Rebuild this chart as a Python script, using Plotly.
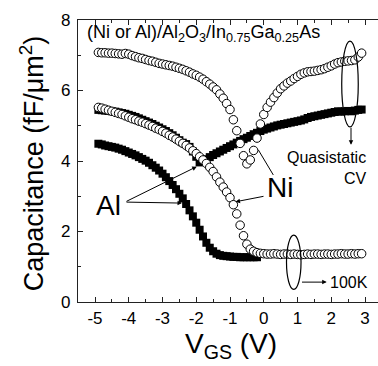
import numpy as np
import plotly.graph_objects as go

# Gate-voltage sweep (V)
vgs = np.round(np.arange(-4.9, 2.95, 0.1), 1)
vgs_al_100k = vgs[vgs <= -0.15]

# Capacitance (fF/um^2)
ni_quasistatic = [
    7.08, 7.07, 7.07, 7.06, 7.06, 7.05, 7.04, 7.03, 7.05, 7.03,
    6.99, 6.96, 6.93, 6.91, 6.88, 6.85, 6.83, 6.80, 6.77, 6.75,
    6.73, 6.71, 6.69, 6.66, 6.63, 6.60, 6.56, 6.52, 6.47, 6.43,
    6.38, 6.32, 6.25, 6.18, 6.10, 6.02, 5.90, 5.78, 5.63, 5.46,
    5.17, 4.86, 4.50, 4.15, 3.92, 4.03, 4.30, 4.65, 5.05, 5.32,
    5.52, 5.67, 5.80, 5.93, 6.05, 6.13, 6.21, 6.27, 6.34, 6.40,
    6.46, 6.50, 6.53, 6.54, 6.55, 6.57, 6.59, 6.62, 6.66, 6.70,
    6.75, 6.79, 6.81, 6.83, 6.84, 6.85, 6.87, 6.95, 7.06,
]
ni_100k = [
    5.52, 5.50, 5.47, 5.44, 5.41, 5.38, 5.35, 5.32, 5.28, 5.24,
    5.20, 5.17, 5.13, 5.10, 5.06, 5.02, 4.98, 4.93, 4.89, 4.84,
    4.79, 4.73, 4.68, 4.62, 4.56, 4.50, 4.44, 4.37, 4.29, 4.21,
    4.12, 4.03, 3.93, 3.82, 3.70, 3.55, 3.40, 3.26, 3.12, 2.96,
    2.76, 2.50, 2.18, 1.88, 1.64, 1.50, 1.44, 1.40, 1.38, 1.37,
    1.36, 1.36, 1.37, 1.36, 1.35, 1.36, 1.36, 1.35, 1.36, 1.35,
    1.34, 1.35, 1.36, 1.35, 1.36, 1.36, 1.35, 1.36, 1.36, 1.35,
    1.36, 1.36, 1.37, 1.36, 1.36, 1.37, 1.36, 1.37, 1.37,
]
al_quasistatic = [
    5.45, 5.44, 5.43, 5.42, 5.41, 5.40, 5.38, 5.36, 5.34, 5.31,
    5.28, 5.25, 5.21, 5.17, 5.13, 5.09, 5.05, 5.00, 4.95, 4.90,
    4.85, 4.79, 4.73, 4.66, 4.59, 4.52, 4.48, 4.40, 4.27, 4.12,
    3.96, 3.99, 4.05, 4.11, 4.17, 4.22, 4.27, 4.32, 4.37, 4.42,
    4.47, 4.52, 4.57, 4.62, 4.66, 4.71, 4.76, 4.80, 4.85, 4.89,
    4.92, 4.95, 4.98, 5.01, 5.03, 5.05, 5.07, 5.09, 5.11, 5.13,
    5.15, 5.18, 5.22, 5.25, 5.27, 5.29, 5.31, 5.33, 5.35, 5.37,
    5.39, 5.41, 5.40, 5.41, 5.42, 5.41, 5.43, 5.45, 5.46,
]
al_100k = [
    4.49, 4.47, 4.44, 4.42, 4.40, 4.38, 4.35, 4.32, 4.28, 4.24,
    4.20, 4.16, 4.11, 4.06, 4.01, 3.95, 3.88, 3.81, 3.73, 3.64,
    3.54, 3.43, 3.32, 3.20, 3.07, 2.94, 2.78, 2.60, 2.43, 2.25,
    2.05, 1.86, 1.68, 1.54, 1.44, 1.37, 1.33, 1.31, 1.30, 1.29,
    1.28, 1.28, 1.27, 1.27, 1.27, 1.27, 1.27, 1.27,
]

x_ticks = [-5, -4, -3, -2, -1, 0, 1, 2, 3]
x_tick_text = ["-5", "-4", "-3", "-2", "-1", "0", "1", "2", "3"]
y_ticks = [0, 2, 4, 6, 8]

FONT = "Arial, Liberation Sans, sans-serif"

square = dict(symbol="square", size=8, color="black", line=dict(width=0))
circle = dict(symbol="circle", size=8.5, color="white", line=dict(color="black", width=1))

fig = go.Figure()
fig.add_trace(go.Scatter(x=vgs_al_100k, y=al_100k, mode="markers", marker=square, name="Al 100K"))
fig.add_trace(go.Scatter(x=vgs, y=al_quasistatic, mode="markers", marker=square, name="Al quasistatic"))
fig.add_trace(go.Scatter(x=vgs, y=ni_100k, mode="markers", marker=circle, name="Ni 100K"))
fig.add_trace(go.Scatter(x=vgs, y=ni_quasistatic, mode="markers", marker=circle, name="Ni quasistatic"))

axis_common = dict(
    showgrid=False, zeroline=False, showline=True, linecolor="#222", linewidth=1.3,
    ticks="inside", ticklen=5, tickwidth=1.2, tickcolor="#222",
    tickfont=dict(family=FONT, size=17, color="black"),
)
fig.update_xaxes(
    range=[-5.504, 3.385], tickvals=x_ticks, ticktext=x_tick_text, mirror="allticks",
    minor=dict(dtick=0.5, tick0=0, ticks="inside", ticklen=3, tickwidth=1.2, tickcolor="#222"),
    ticklabelstandoff=0, **axis_common,
)
fig.update_yaxes(
    range=[0, 8], tickvals=y_ticks, mirror=False,
    minor=dict(dtick=1, tick0=0, ticks="inside", ticklen=3, tickwidth=1.2, tickcolor="#222"),
    ticklabelstandoff=3, **axis_common,
)

# Ellipses grouping the curves
ell = dict(type="circle", xref="x", yref="y", line=dict(color="black", width=1.2))
fig.add_shape(x0=2.31, x1=2.80, y0=4.97, y1=7.40, **ell)
fig.add_shape(x0=0.674, x1=1.104, y0=0.356, y1=1.895, **ell)
# Plain leader line to the Ni quasistatic curve
fig.add_shape(type="line", xref="x", yref="y", x0=0.283, y0=3.604, x1=-0.161, y1=4.316,
              line=dict(color="black", width=1))

def arrow(x, y, ax, ay):
    fig.add_annotation(x=x, y=y, ax=ax, ay=ay, xref="x", yref="y", axref="x", ayref="y",
                       text="", showarrow=True, arrowhead=2, arrowsize=0.9,
                       arrowwidth=1, arrowcolor="black", standoff=0, startstandoff=0)

arrow(-1.987, 3.840, -4.111, 2.835)
arrow(-2.422, 2.806, -4.111, 2.835)
arrow(-0.837, 2.843, 0.037, 3.006)
arrow(2.585, 4.459, 2.585, 4.986)
arrow(1.865, 0.564, 1.089, 0.564)

def label(text, x, y, size, xanchor="center", yanchor="middle", align="center", **kw):
    fig.add_annotation(text=text, x=x, y=y, showarrow=False, xanchor=xanchor,
                       yanchor=yanchor, align=align,
                       font=dict(family=FONT, size=size, color="black"), **kw)

label("(Ni or Al)/Al<sub>2</sub>O<sub>3</sub>/In<sub>0.75</sub>Ga<sub>0.25</sub>As",
      -5.30, 7.62, 18, xanchor="left", xref="x", yref="y")
label("Al", -4.6, 2.75, 28, xref="x", yref="y")
label("Ni", 0.481, 3.25, 28, xref="x", yref="y")
label("Quasistatic<br>CV", 3.089, 3.81, 16, xanchor="right", align="right", xref="x", yref="y")
label("100K", 1.913, 0.54, 16, xanchor="left", xref="x", yref="y")

# Axis titles
label("V<sub>GS</sub> (V)", 0.51, -0.155, 28, xref="paper", yref="paper")
label("Capacitance (fF/\u03bcm<sup>2</sup>)", -0.155, 0.49, 27, xref="paper", yref="paper",
      textangle=-90)

fig.update_layout(
    width=378, height=366, showlegend=False,
    margin=dict(l=78, r=0, t=20, b=64),
    plot_bgcolor="white", paper_bgcolor="white",
)

fig.write_html("out.html")
